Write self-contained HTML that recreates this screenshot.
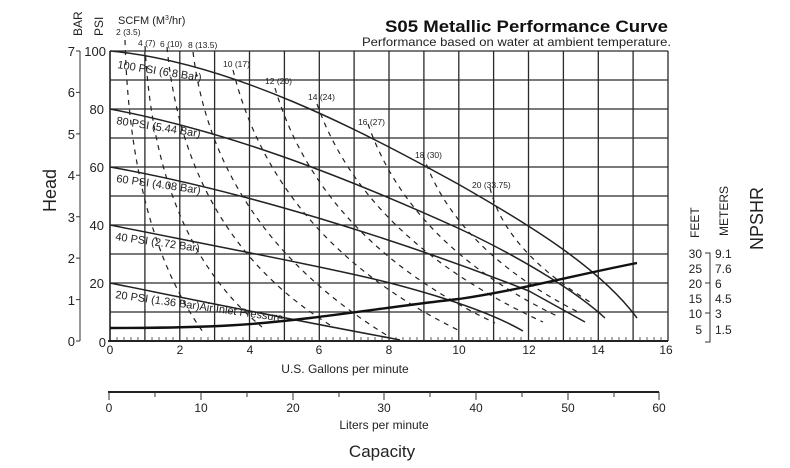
<!DOCTYPE html>
<html><head><meta charset="utf-8"><style>
html,body{margin:0;padding:0;background:#fff;}
svg{display:block;font-family:"Liberation Sans",sans-serif;}
</style></head><body>
<svg width="790" height="468" viewBox="0 0 790 468" xmlns="http://www.w3.org/2000/svg">
<rect width="790" height="468" fill="#fff"/>
<g stroke="#2a2a2a" stroke-width="1.3">
<line x1="110" y1="51" x2="668" y2="51"/><line x1="110" y1="80" x2="668" y2="80"/><line x1="110" y1="109" x2="668" y2="109"/><line x1="110" y1="138" x2="668" y2="138"/><line x1="110" y1="167" x2="668" y2="167"/><line x1="110" y1="196" x2="668" y2="196"/><line x1="110" y1="225" x2="668" y2="225"/><line x1="110" y1="254" x2="668" y2="254"/><line x1="110" y1="283" x2="668" y2="283"/><line x1="110" y1="312" x2="668" y2="312"/>
<line x1="144.9" y1="51" x2="144.9" y2="341"/><line x1="179.8" y1="51" x2="179.8" y2="341"/><line x1="214.6" y1="51" x2="214.6" y2="341"/><line x1="249.5" y1="51" x2="249.5" y2="341"/><line x1="284.4" y1="51" x2="284.4" y2="341"/><line x1="319.3" y1="51" x2="319.3" y2="341"/><line x1="354.1" y1="51" x2="354.1" y2="341"/><line x1="389" y1="51" x2="389" y2="341"/><line x1="423.9" y1="51" x2="423.9" y2="341"/><line x1="458.8" y1="51" x2="458.8" y2="341"/><line x1="493.6" y1="51" x2="493.6" y2="341"/><line x1="528.5" y1="51" x2="528.5" y2="341"/><line x1="563.4" y1="51" x2="563.4" y2="341"/><line x1="598.3" y1="51" x2="598.3" y2="341"/><line x1="633.1" y1="51" x2="633.1" y2="341"/><line x1="668" y1="51" x2="668" y2="341"/>
</g>
<line x1="110" y1="51" x2="110" y2="341" stroke="#222" stroke-width="1.6"/>
<line x1="108" y1="341" x2="668" y2="341" stroke="#222" stroke-width="2"/>
<g stroke="#333" stroke-width="0.8">
<path d="M117,341v-4M124,341v-4M131,341v-4M138,341v-4M152,341v-4M159,341v-4M166,341v-4M173,341v-4M187,341v-4M194,341v-4M201,341v-4M208,341v-4M222,341v-4M229,341v-4M236,341v-4M243,341v-4M257,341v-4M264,341v-4M271,341v-4M278,341v-4M291,341v-4M298,341v-4M305,341v-4M312,341v-4M326,341v-4M333,341v-4M340,341v-4M347,341v-4M361,341v-4M368,341v-4M375,341v-4M382,341v-4M396,341v-4M403,341v-4M410,341v-4M417,341v-4M431,341v-4M438,341v-4M445,341v-4M452,341v-4M466,341v-4M473,341v-4M480,341v-4M487,341v-4M500,341v-4M507,341v-4M514,341v-4M521,341v-4M535,341v-4M542,341v-4M549,341v-4M556,341v-4M570,341v-4M577,341v-4M584,341v-4M591,341v-4M605,341v-4M612,341v-4M619,341v-4M626,341v-4M640,341v-4M647,341v-4M654,341v-4M661,341v-4"/>
</g>
<g fill="none" stroke="#222" stroke-width="1.2" stroke-dasharray="5,5">
<path d="M125,40 Q130,230 203,332"/>
<path d="M145,46 Q155,240 262,327"/>
<path d="M167,47 Q185,235 330,325"/>
<path d="M193,52 Q215,230 388,336"/>
<path d="M233,70 Q275,240 458,330"/>
<path d="M275,88 Q320,240 495,323"/>
<path d="M317,104 Q365,240 543,322"/>
<path d="M368,124 Q410,245 557,316"/>
<path d="M423,155 Q455,250 580,313"/>
<path d="M490,188 Q505,250 590,302"/>
</g>
<g fill="none" stroke="#222" stroke-width="1.5" stroke-linejoin="round">
<path d="M110,51 C230,62 360,130 458,184 C530,225 600,268 637,318"/>
<path d="M110,109 C220,130 330,170 460,229 C530,262 580,295 605,318"/>
<path d="M110,167 C240,190 400,240 529,291 L585,322"/>
<path d="M110,225 C220,247 340,270 390,283 C440,296 490,312 523,331"/>
<path d="M110,283 C180,297 277,317 390,338 L400,340"/>
</g>
<path fill="none" stroke="#111" stroke-width="2.4" d="M110,328 C220,328 260,324 310,318 C360,312 420,303 459,299 C520,290 580,274 637,263"/>
<line x1="80" y1="51" x2="80" y2="341" stroke="#333" stroke-width="1"/>
<g stroke="#333"><path d="M80,51h-4M80,92.4h-4M80,133.9h-4M80,175.3h-4M80,216.7h-4M80,258.1h-4M80,299.6h-4M80,341h-4"/></g>
<g font-size="13" fill="#222" text-anchor="end">
<text x="75" y="56">7</text><text x="75" y="97">6</text><text x="75" y="139">5</text><text x="75" y="180">4</text><text x="75" y="222">3</text><text x="75" y="263">2</text><text x="75" y="305">1</text><text x="75" y="346">0</text>
<text x="106" y="56">100</text><text x="104" y="114">80</text><text x="104" y="172">60</text><text x="104" y="230">40</text><text x="104" y="288">20</text><text x="106" y="347">0</text>
</g>
<text transform="translate(82,36) rotate(-90)" font-size="12" fill="#222">BAR</text>
<text transform="translate(103,36) rotate(-90)" font-size="12" fill="#222">PSI</text>
<text transform="translate(56,212) rotate(-90)" font-size="18" fill="#222">Head</text>
<text x="118" y="24" font-size="11" fill="#222">SCFM (M<tspan font-size="7" dy="-4">3</tspan><tspan dy="4">/hr)</tspan></text>
<g font-size="8.5" fill="#222">
<text x="116" y="35">2 (3.5)</text><text x="138" y="46">4 (7)</text><text x="160" y="47">6 (10)</text><text x="188" y="48">8 (13.5)</text>
<text x="223" y="67">10 (17)</text><text x="265" y="84">12 (20)</text><text x="308" y="100">14 (24)</text><text x="358" y="125">16 (27)</text><text x="415" y="158">18 (30)</text><text x="472" y="188">20 (33.75)</text>
</g>
<g font-size="11" fill="#222">
<text transform="translate(117,68) rotate(9)">100 PSI (6.8 Bar)</text>
<text transform="translate(116,124) rotate(9)">80 PSI (5.44 Bar)</text>
<text transform="translate(116,182) rotate(8)">60 PSI (4.08 Bar)</text>
<text transform="translate(115,240) rotate(8)">40 PSI (2.72 Bar)</text>
<text transform="translate(115,298) rotate(8)">20 PSI (1.36 Bar)Air Inlet Pressure</text>
</g>
<text x="385" y="32" font-size="17" font-weight="bold" fill="#111" textLength="283" lengthAdjust="spacingAndGlyphs">S05 Metallic Performance Curve</text>
<text x="362" y="46" font-size="12" fill="#222" textLength="309" lengthAdjust="spacingAndGlyphs">Performance based on water at ambient temperature.</text>
<g font-size="12" fill="#222" text-anchor="middle">
<text x="110" y="354">0</text><text x="180" y="354">2</text><text x="250" y="354">4</text><text x="319" y="354">6</text><text x="389" y="354">8</text><text x="459" y="354">10</text><text x="529" y="354">12</text><text x="598" y="354">14</text><text x="666" y="354">16</text>
<text x="345" y="373">U.S. Gallons per minute</text>
</g>
<line x1="108" y1="392" x2="659" y2="392" stroke="#222" stroke-width="2"/>
<g stroke="#333"><path d="M109,392v8M155,392v5M201,392v8M247,392v5M293,392v8M339,392v5M384,392v8M430,392v5M476,392v8M522,392v5M568,392v8M614,392v5M659,392v8"/></g>
<g font-size="12" fill="#222" text-anchor="middle">
<text x="109" y="412">0</text><text x="201" y="412">10</text><text x="293" y="412">20</text><text x="384" y="412">30</text><text x="476" y="412">40</text><text x="568" y="412">50</text><text x="659" y="412">60</text>
<text x="384" y="429">Liters per minute</text>
<text x="382" y="457" font-size="17">Capacity</text>
</g>
<text transform="translate(699,238) rotate(-90)" font-size="12" fill="#222">FEET</text>
<text transform="translate(728,236) rotate(-90)" font-size="12" fill="#222">METERS</text>
<text transform="translate(763,250) rotate(-90)" font-size="18" fill="#222">NPSHR</text>
<path d="M705,253h5v89h-5M705,283h5M705,313h5" stroke="#333" fill="none"/>
<g font-size="12" fill="#222">
<g text-anchor="end"><text x="702" y="258">30</text><text x="702" y="273">25</text><text x="702" y="288">20</text><text x="702" y="303">15</text><text x="702" y="318">10</text><text x="702" y="334">5</text></g>
<text x="715" y="258">9.1</text><text x="715" y="273">7.6</text><text x="715" y="288">6</text><text x="715" y="303">4.5</text><text x="715" y="318">3</text><text x="715" y="334">1.5</text>
</g>
</svg>
</body></html>
